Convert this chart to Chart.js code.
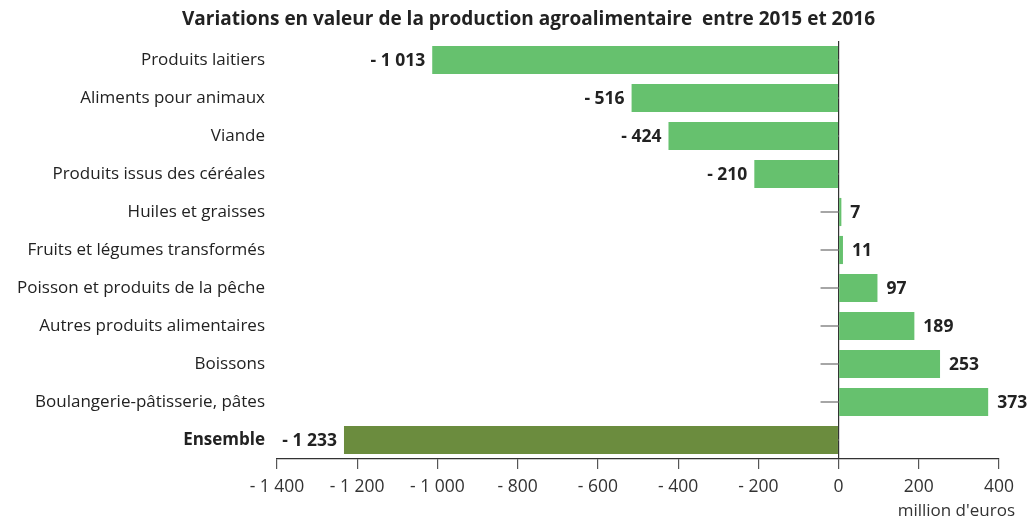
<!DOCTYPE html>
<html>
<head>
<meta charset="utf-8">
<script src="https://cdn.jsdelivr.net/npm/chart.js@4"></script>
<style>
  html, body { margin: 0; padding: 0; background: #fff; }
  #wrap { width: 1035px; height: 520px; }
</style>
</head>
<body>
<div id="wrap"><canvas id="chart"></canvas></div>
<script>
// Données
const categories = [
    'Produits laitiers',
    'Aliments pour animaux',
    'Viande',
    'Produits issus des céréales',
    'Huiles et graisses',
    'Fruits et légumes transformés',
    'Poisson et produits de la pêche',
    'Autres produits alimentaires',
    'Boissons',
    'Boulangerie-pâtisserie, pâtes',
    'Ensemble'
];
const variations = [-1013, -516, -424, -210, 7, 11, 97, 189, 253, 373, -1233];
const xTicks = [-1400, -1200, -1000, -800, -600, -400, -200, 0, 200, 400];
const titre = 'Variations en valeur de la production agroalimentaire  entre 2015 et 2016';
const unite = "million d'euros";

const FONT = "'Open Sans', 'Noto Sans', sans-serif";

function formatNombre(v) {
    const s = String(Math.abs(v)).replace(/\B(?=(\d{3})+(?!\d))/g, ' ');
    return v < 0 ? '- ' + s : s;
}

// Etiquettes de valeurs sur les barres
const etiquettes = {
    id: 'etiquettes',
    afterDatasetsDraw(chart) {
        const ctx = chart.ctx;
        const meta = chart.getDatasetMeta(0);
        ctx.save();
        ctx.font = 'bold 17.5px ' + FONT;
        ctx.fillStyle = '#222';
        ctx.textBaseline = 'middle';
        meta.data.forEach((bar, i) => {
            const v = variations[i];
            if (v < 0) {
                ctx.textAlign = 'right';
                ctx.fillText(formatNombre(v), bar.x - 7, bar.y + 1);
            } else {
                ctx.textAlign = 'left';
                ctx.fillText(formatNombre(v), bar.x + 9, bar.y + 1);
            }
        });
        ctx.restore();
    }
};

// Titre, petits traits sur l'axe vertical (à zéro) et unité sous l'axe
const decor = {
    id: 'decor',
    beforeDatasetsDraw(chart) {
        const ctx = chart.ctx;
        const x0 = chart.scales.x.getPixelForValue(0);
        ctx.save();
        ctx.strokeStyle = '#888';
        ctx.lineWidth = 1.5;
        categories.forEach((c, i) => {
            const y = chart.scales.y.getPixelForValue(i);
            ctx.beginPath();
            ctx.moveTo(x0 - 18, y);
            ctx.lineTo(x0, y);
            ctx.stroke();
        });
        ctx.restore();
    },
    afterDraw(chart) {
        const ctx = chart.ctx;
        const sx = chart.scales.x;
        ctx.save();
        ctx.fillStyle = '#222';
        ctx.textAlign = 'center';
        ctx.textBaseline = 'middle';
        ctx.font = 'bold 19px ' + FONT;
        ctx.fillText(titre, chart.width / 2 + 11, chart.chartArea.top - 21);

        ctx.font = '17px ' + FONT;
        ctx.fillStyle = '#333';
        ctx.textAlign = 'right';
        ctx.fillText(unite, sx.right + 16, sx.bottom - 9);
        ctx.restore();
    }
};

new Chart(document.getElementById('chart'), {
    type: 'bar',
    data: {
        labels: categories,
        datasets: [{
            data: variations,
            backgroundColor: categories.map((c, i) => i === categories.length - 1 ? '#6b8c3e' : '#66c16e'),
            categoryPercentage: 1,
            barPercentage: 0.74
        }]
    },
    options: {
        indexAxis: 'y',
        responsive: true,
        maintainAspectRatio: false,
        animation: false,
        layout: { padding: { left: 0, right: 36, top: 41, bottom: 0 } },
        plugins: {
            legend: { display: false },
            tooltip: { enabled: false },
            title: { display: false }
        },
        scales: {
            x: {
                min: -1400,
                max: 400,
                afterBuildTicks(scale) {
                    scale.ticks = xTicks.map(v => ({ value: v }));
                },
                afterFit(scale) { scale.height = 61; },
                grid: {
                    drawOnChartArea: true,
                    drawTicks: true,
                    tickLength: 10,
                    tickColor: '#555',
                    color: ctx => (ctx.tick && ctx.tick.value === 0) ? '#333' : 'rgba(0,0,0,0)',
                    lineWidth: 1.2
                },
                border: { display: true, color: '#333', width: 1.2 },
                ticks: {
                    color: '#333',
                    font: { family: FONT, size: 17.5 },
                    padding: 8,
                    callback: v => formatNombre(v)
                }
            },
            y: {
                afterFit(scale) { scale.width = 277; },
                grid: { display: false, drawTicks: false },
                border: { display: false },
                ticks: {
                    color: '#222',
                    padding: 12,
                    font: ctx => ({
                        family: FONT,
                        size: 17,
                        weight: ctx.index === categories.length - 1 ? 'bold' : 'normal'
                    })
                }
            }
        }
    },
    plugins: [decor, etiquettes]
});
</script>
</body>
</html>
